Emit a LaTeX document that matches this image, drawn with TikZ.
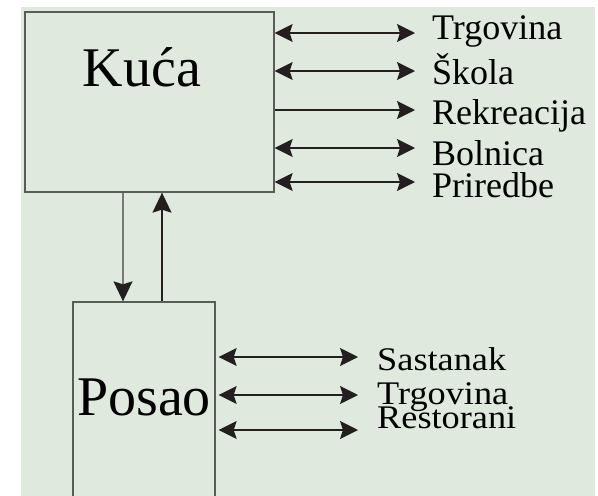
\documentclass[tikz,border=0pt]{standalone}
\usepackage{fontspec}
\setmainfont{Liberation Serif}
\newfontfamily\lblfontb[FakeStretch=1.1]{Liberation Serif}
\usetikzlibrary{arrows.meta}
\definecolor{bgc}{RGB}{224,233,222}
\definecolor{linec}{RGB}{35,31,32}
\definecolor{boxc}{RGB}{90,92,90}
\definecolor{greyline}{RGB}{120,122,120}
\begin{document}
\begin{tikzpicture}[x=1pt,y=-1pt,
  tip/.tip={Stealth[length=18pt,width=18pt,inset=3pt]},
  conn/.style={draw=linec,line width=1.4pt},
  box/.style={draw=boxc,line width=1.3pt,fill=bgc,inner sep=0pt},
  big/.style={font=\fontsize{56}{60}\selectfont,inner sep=0pt},
  lbl/.style={font=\fontsize{36}{40}\selectfont,inner sep=0pt,anchor=base west},
  lblb/.style={font=\lblfontb\fontsize{33}{36}\selectfont,inner sep=0pt,anchor=base west}]
\useasboundingbox (0,0) rectangle (598,496);
\clip (0,0) rectangle (598,496);
\fill[bgc] (21,7) rectangle (595,496);
% boxes
\node[box,minimum width=249pt,minimum height=180pt] (kuca) at (149.5,102) {};
\node[box,minimum width=142pt,minimum height=220pt] (posao) at (144,412) {};
\node[big,anchor=base] (kucat) at (142,86) {Kuća};
\node[big,anchor=base] (posaot) at (144,415) {Posao};
% Kuca targets
\coordinate (k1) at (415,33);
\coordinate (k2) at (415,71);
\coordinate (k3) at (415,110);
\coordinate (k4) at (415,148);
\coordinate (k5) at (415,182);
\node[lbl] (l1) at (432,39) {Trgovina};
\node[lbl] (l2) at (432,84) {Škola};
\node[lbl] (l3) at (432,124) {Rekreacija};
\node[lbl] (l4) at (432,165) {Bolnica};
\node[lbl] (l5) at (432,197) {Priredbe};
\draw[conn,tip-tip] (kuca.east |- k1) -- (k1);
\draw[conn,tip-tip] (kuca.east |- k2) -- (k2);
\draw[conn,-tip] (kuca.east |- k3) -- (k3);
\draw[conn,tip-tip] (kuca.east |- k4) -- (k4);
\draw[conn,tip-tip] (kuca.east |- k5) -- (k5);
% Posao targets
\coordinate (p1) at (358,357);
\coordinate (p2) at (358,395);
\coordinate (p3) at (358,430);
\node[lblb] (m1) at (377,370) {Sastanak};
\node[lblb] (m2) at (377,404) {Trgovina};
\node[lblb] (m3) at (377,428) {Restorani};
\draw[conn,tip-tip,shorten <=3pt] (posao.east |- p1) -- (p1);
\draw[conn,tip-tip,shorten <=3pt] (posao.east |- p2) -- (p2);
\draw[conn,tip-tip,shorten <=3pt] (posao.east |- p3) -- (p3);
% vertical
\coordinate (dx) at (123,0);
\coordinate (ux) at (162,0);
\draw[conn,draw=greyline,-{Stealth[length=20pt,width=19pt,inset=3pt,color=linec]}] (kuca.south -| dx) -- (posao.north -| dx);
\draw[conn,-{Stealth[length=20pt,width=19pt,inset=3pt]}] (posao.north -| ux) -- (kuca.south -| ux);
\end{tikzpicture}
\end{document}
